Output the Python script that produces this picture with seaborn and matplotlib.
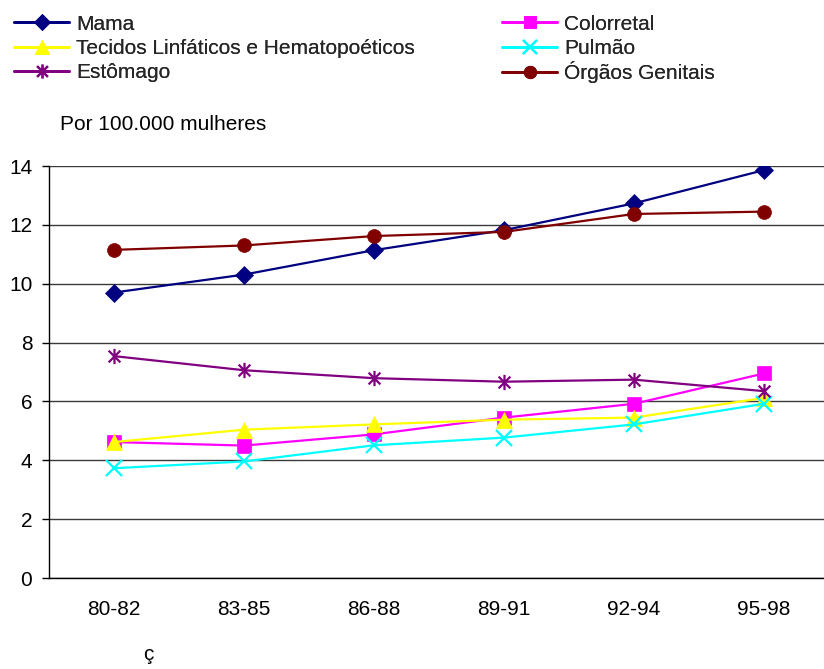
import numpy as np
import pandas as pd
import matplotlib
matplotlib.use("Agg")
import matplotlib.pyplot as plt
from matplotlib.path import Path
from matplotlib.lines import Line2D
import seaborn as sns

periods = ["80-82", "83-85", "86-88", "89-91", "92-94", "95-98"]

mama = [9.70, 10.31, 11.14, 11.82, 12.73, 13.86]
colorretal = [4.62, 4.50, 4.88, 5.45, 5.92, 6.95]
tecidos = [4.62, 5.04, 5.22, 5.38, 5.45, 6.12]
pulmao = [3.73, 3.96, 4.51, 4.77, 5.22, 5.92]
estomago = [7.54, 7.06, 6.79, 6.67, 6.74, 6.35]
orgaos = [11.15, 11.30, 11.62, 11.76, 12.37, 12.45]

series_names = ["Mama", "Colorretal", "Tecidos Linfáticos e Hematopoéticos",
                "Pulmão", "Estômago", "Órgãos Genitais"]
series_values = [mama, colorretal, tecidos, pulmao, estomago, orgaos]

y_ticks = [0, 2, 4, 6, 8, 10, 12, 14]

colors = ["#000080", "#FF00FF", "#FFFF00", "#00FFFF", "#800080", "#800000"]

# asterisk marker: an "x" with a vertical bar through it
asterisk = Path([(-1, -1), (1, 1), (-1, 1), (1, -1), (0, -1.3), (0, 1.3)],
                [Path.MOVETO, Path.LINETO] * 3)
markers = ["D", "s", "^", "x", asterisk, "o"]
msizes = [9, 10, 11, 11, 11, 10]
line_art = [False, False, False, True, True, False]

rows = []
for name, vals in zip(series_names, series_values):
    for p, v in zip(periods, vals):
        rows.append({"Período": p, "Taxa": v, "Localização": name})
df = pd.DataFrame(rows)

sns.set_theme(style="white")
plt.rcParams["font.family"] = ["Liberation Sans", "DejaVu Sans"]
FS = 15

fig = plt.figure(figsize=(8.24, 6.69), dpi=100)
W, H = 824, 669
ax_left, ax_right, ax_top, ax_bottom = 49, 829, 166, 578
ax = fig.add_axes([ax_left / W, (H - ax_bottom) / H,
                   (ax_right - ax_left) / W, (ax_bottom - ax_top) / H])

for name, c, m, ms, la in zip(series_names, colors, markers, msizes, line_art):
    sub = df[df["Localização"] == name]
    sns.lineplot(data=sub, x="Período", y="Taxa", color=c, marker=m,
                 markersize=ms, markerfacecolor=c, markeredgecolor=c,
                 markeredgewidth=1.6 if la else 0.5,
                 linewidth=1.6, legend=False, ax=ax)

ax.set_ylim(0, 14)
ax.set_xlim(-0.5, len(periods) - 0.5)
ax.set_yticks(y_ticks)
ax.set_yticklabels([str(t) for t in y_ticks])
ax.set_xticks(range(len(periods)))
ax.set_xticklabels(periods)
ax.set_xticks(np.arange(-0.5, len(periods), 1.0), minor=True)
ax.tick_params(axis="x", which="major", length=0, pad=16, labelsize=FS, colors="black")
ax.tick_params(axis="x", which="minor", length=5, width=1, direction="out", color="black")
ax.tick_params(axis="y", length=5, width=1, direction="out", pad=7, labelsize=FS,
               colors="black", left=True)
ax.set_xlabel("")
ax.set_ylabel("")

ax.yaxis.grid(True, color="#3a3a3a", linewidth=1)
ax.set_axisbelow(True)
for s in ["top", "right"]:
    ax.spines[s].set_visible(False)
for s in ["left", "bottom"]:
    ax.spines[s].set_color("black")
    ax.spines[s].set_linewidth(1)
    ax.spines[s].set_zorder(3)

# legend: one entry per slot, two columns of three rows
def handle(i):
    return Line2D([], [], color=colors[i], marker=markers[i], markersize=msizes[i] - 1,
                  markerfacecolor=colors[i], markeredgecolor=colors[i],
                  markeredgewidth=1.6 if line_art[i] else 0.5, linewidth=2)

leg_kw = dict(frameon=False, fontsize=FS, handlelength=2.65, handletextpad=0.33,
              borderpad=0, borderaxespad=0, loc="center left")
col_x = [14, 502]
# (series index, column x, row centre y)
slots = [(0, col_x[0], 24), (1, col_x[1], 24),
         (2, col_x[0], 49), (3, col_x[1], 49),
         (4, col_x[0], 73), (5, col_x[1], 72)]
for i, x, y in slots:
    leg = fig.legend([handle(i)], [series_names[i]],
                     bbox_to_anchor=(x / W, 1 - y / H), **leg_kw)
    fig.add_artist(leg)

fig.text(60 / W, 1 - 124 / H, "Por 100.000 mulheres", fontsize=FS,
         ha="left", va="center", color="black")
fig.text(148 / W, 1 - 655 / H, "ç", fontsize=FS, ha="center", va="center",
         color="black")

fig.savefig("out.png", dpi=100)
